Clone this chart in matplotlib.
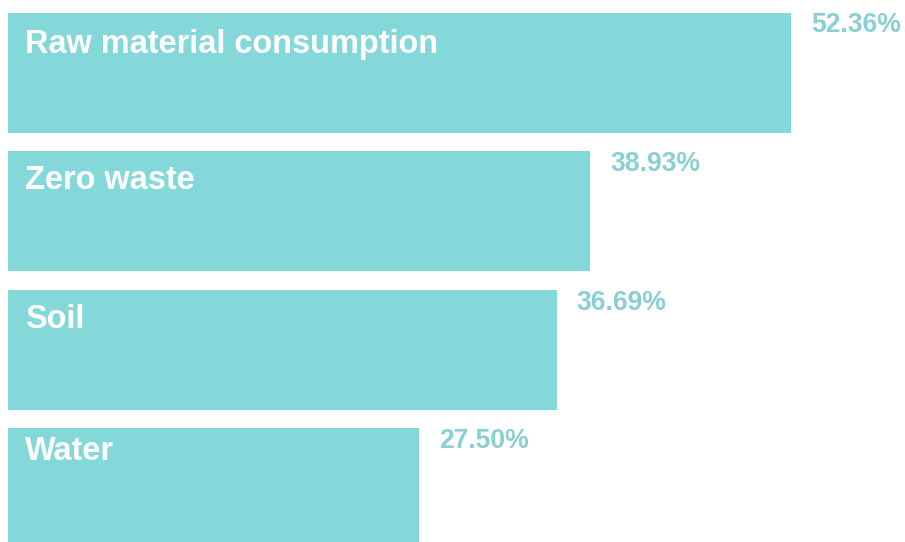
import matplotlib
matplotlib.use("Agg")
import matplotlib.pyplot as plt

categories = ["Raw material consumption", "Zero waste", "Soil", "Water"]
values = [52.36, 38.93, 36.69, 27.50]
value_labels = ["52.36%", "38.93%", "36.69%", "27.50%"]

BAR_COLOR = "#84D8DA"
VALUE_COLOR = "#8ACFD3"

DPI = 72  # 1 pt == 1 px
W, H = 905, 542
fig = plt.figure(figsize=(W / DPI, H / DPI), dpi=DPI)
fig.patch.set_facecolor("white")

# axes spans from the bar origin to the right edge, full height
left_px = 8
ax = fig.add_axes([left_px / W, 0, (W - left_px) / W, 1])
px_per_unit_x = 14.95
ax.set_xlim(0, (W - left_px) / px_per_unit_x)
step_px = 138.5
first_center_px = 72.5
ax.set_ylim((H - first_center_px) / step_px, -first_center_px / step_px)
ax.axis("off")

bar_h = 120 / step_px
ypos = list(range(len(categories)))
ax.barh(ypos, values, height=bar_h, color=BAR_COLOR, edgecolor="none")

# baseline drop of each category label below its bar's top edge (px)
name_drop = [40, 38, 39, 32]

font = "Liberation Sans"
for y, v, cat, lab, drop in zip(ypos, values, categories, value_labels, name_drop):
    top = y - bar_h / 2
    ax.annotate(cat, xy=(0, top), xytext=(17, -drop), textcoords="offset points",
                ha="left", va="baseline", color="white", fontsize=32.5,
                fontweight="bold", family=font)
    ax.annotate(lab, xy=(v, top), xytext=(20, -20), textcoords="offset points",
                ha="left", va="baseline", color=VALUE_COLOR, fontsize=26.5,
                fontweight="bold", family=font, annotation_clip=False)

fig.savefig("out.png", dpi=DPI, facecolor="white")
